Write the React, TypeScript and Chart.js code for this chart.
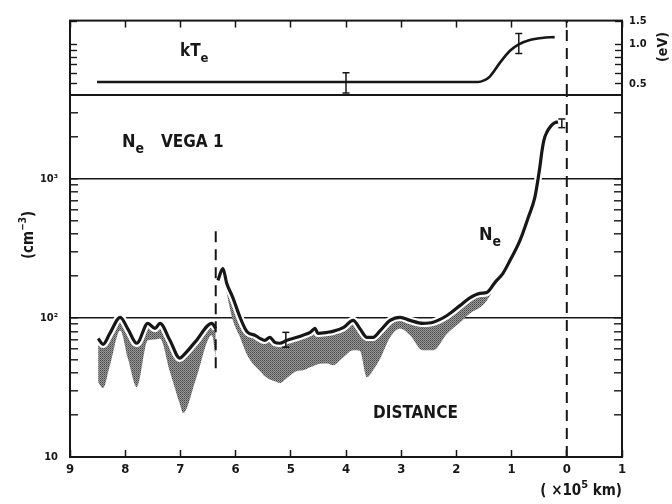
import React, { useEffect, useRef } from 'react';
import { Chart, registerables } from 'chart.js';

Chart.register(...registerables);

const FONT = "'DejaVu Sans Condensed', 'Liberation Sans Narrow', 'DejaVu Sans', sans-serif";
const INK = '#171717';

// ---- axes ----
const xTickValues = [9, 8, 7, 6, 5, 4, 3, 2, 1, 0, -1];
const neTickValues = [10, 20, 30, 40, 50, 60, 70, 80, 90, 100, 200, 300, 400, 500, 600, 700, 800, 900, 1000, 2000, 3000, 4000];
const neTickLabels: Record<string, string> = { '10': '10', '100': '10²', '1000': '10³' };
const neMajorLines = [100, 1000];
const kTickValues = [0.5, 0.6, 0.7, 0.8, 0.9, 1.0, 1.5];
const kTickLabels: Record<string, string> = { '0.5': '0.5', '1': '1.0', '1.5': '1.5' };
const xRange = [-1, 9];
const neRange = [10, 4000];
const kRange = [0.41, 1.52];

// ---- Ne (cm^-3) vs distance (x10^5 km) ----
const neDist = [8.49, 8.40, 8.28, 8.09, 7.95, 7.79, 7.59, 7.46, 7.37, 7.19, 7.01, 6.95, 6.72, 6.43, 6.36, 6.34,
  6.32, 6.23, 6.16, 6.05, 5.92, 5.83, 5.78, 5.65, 5.56, 5.47, 5.38, 5.29, 5.20, 5.07, 4.89, 4.78, 4.65, 4.56, 4.51,
  4.34, 4.24, 4.05, 3.87, 3.75, 3.62, 3.51, 3.38, 3.20, 3.02, 2.84, 2.61, 2.42, 2.17, 1.93, 1.75, 1.57, 1.45, 1.30,
  1.16, 1.03, 0.85, 0.70, 0.58, 0.52, 0.485, 0.449, 0.413, 0.359, 0.286, 0.214, 0.16];
const neVal = [71, 64.6, 77, 101, 83, 65.7, 91.4, 84, 91.4, 69, 51.3, 53.6, 68, 91.4, 84, null,
  186, 226, 177, 140, 101, 84, 78.7, 75, 71.3, 69, 72.5, 66.7, 65.7, 69, 72.5, 75, 78.7, 84, 77.4,
  78.7, 80, 85, 96, 84, 72.5, 72.5, 81, 96, 101, 96, 91.4, 93, 104, 123, 140, 150, 152, 180,
  208, 258, 359, 525, 731, 1000, 1240, 1590, 1905, 2170, 2400, 2530, 2565];
// lower edge of the shaded band
const neLow = [34.5, 31.3, 45, 81, 51, 31.8, 69, 70, 71, 41, 24, 20.7, 36, 75, 52, null,
  null, 200, 150, 96, 72.5, 58.5, 53, 45, 41.5, 38, 36, 35, 34, 37, 41.5, 42, 44.2, 45.7, 46.5,
  47, 45.7, 52, 58.5, 58, 37.4, 42, 51, 72.5, 84, 75, 58.5, 58.5, 77, 93, 108, 119, 133, 165,
  200, 230, null, null, null, null, null, null, null, null, null, null, null];

const neErrDist = [5.09, 0.09];
const neErrLo = [61.5, 2330];
const neErrHi = [78.7, 2690];

// ---- kTe (eV) ----
const kDist = [8.51, 7.0, 5.0, 3.0, 2.0, 1.61, 1.50, 1.39, 1.21, 1.03, 0.87, 0.67, 0.45, 0.22];
const kVal = [0.515, 0.515, 0.515, 0.515, 0.515, 0.515, 0.53, 0.57, 0.725, 0.894, 1.0, 1.08, 1.12, 1.137];
const kErrDist = [4.0, 0.87];
const kErrLo = [0.425, 0.85];
const kErrHi = [0.607, 1.21];

// ---- markers ----
const nucleusDist = 0;
const boundaryDist = 6.36;
const boundaryLo = 43.5;
const boundaryHi = 436;

type Part = [string, number, number];
function rich(ctx: CanvasRenderingContext2D, parts: Part[], x: number, y: number, align: string) {
  let total = 0;
  const widths = parts.map(([t, s]) => {
    ctx.font = `bold ${s}px ${FONT}`;
    const w = ctx.measureText(t).width;
    total += w;
    return w;
  });
  let cx = align === 'right' ? x - total : align === 'center' ? x - total / 2 : x;
  parts.forEach(([t, s, dy], i) => {
    ctx.font = `bold ${s}px ${FONT}`;
    ctx.fillText(t, cx, y + dy);
    cx += widths[i];
  });
}

const framePlugin = {
  id: 'frame',
  afterDatasetsDraw(chart: any) {
    const { ctx, chartArea: a } = chart;
    ctx.save();
    ctx.strokeStyle = INK;
    ctx.lineWidth = 2;
    ctx.strokeRect(a.left, a.top, a.right - a.left, a.bottom - a.top);
    ctx.restore();
  },
};

function errorBarSets(dist: number[], lo: number[], hi: number[], axis: string) {
  return dist.map((x, i) => ({
    data: [{ x, y: lo[i] }, { x, y: hi[i] }],
    yAxisID: axis,
    borderColor: INK,
    borderWidth: 1.5,
    pointStyle: 'line',
    pointRadius: 3.5,
    pointBorderWidth: 1.5,
    pointBorderColor: INK,
    pointBackgroundColor: INK,
    fill: false,
    order: 0,
  }));
}

function xScale(position: string, showLabels: boolean) {
  return {
    type: 'linear',
    position,
    reverse: true,
    min: xRange[0],
    max: xRange[1],
    afterBuildTicks: (s: any) => { s.ticks = xTickValues.map((v) => ({ value: v })); },
    afterFit: (s: any) => { s.height = showLabels ? 30 : 0; },
    border: { display: false },
    grid: { drawOnChartArea: false, tickLength: -7, tickColor: INK, tickWidth: 1.5 },
    ticks: {
      display: showLabels,
      autoSkip: false,
      maxRotation: 0,
      padding: 12,
      color: INK,
      font: { family: FONT, weight: 'bold', size: 13 },
      callback: (v: any) => String(Math.abs(Number(v))),
    },
  };
}

export default function App() {
  const topRef = useRef<HTMLCanvasElement>(null);
  const botRef = useRef<HTMLCanvasElement>(null);

  useEffect(() => {
    const pc = document.createElement('canvas');
    pc.width = 2;
    pc.height = 2;
    const p = pc.getContext('2d')!;
    p.fillStyle = '#979797';
    p.fillRect(0, 0, 2, 2);
    p.fillStyle = '#474747';
    p.fillRect(0, 0, 1, 1);
    p.fillStyle = '#6c6c6c';
    p.fillRect(1, 1, 1, 1);
    const pattern = botRef.current!.getContext('2d')!.createPattern(pc, 'repeat');

    const neLine = neDist.map((x, i) => ({ x, y: neVal[i] }));
    const lowLine = neDist.map((x, i) => ({ x, y: neLow[i] }));

    const bottomNotes = {
      id: 'notesB',
      afterDraw(chart: any) {
        const c = chart.ctx as CanvasRenderingContext2D;
        c.save();
        c.fillStyle = INK;
        c.textAlign = 'left';
        c.textBaseline = 'alphabetic';
        rich(c, [['N', 18, 0], ['e', 14, 6]], 122, 147, 'left');
        rich(c, [['VEGA 1', 17, 0]], 161, 147, 'left');
        rich(c, [['N', 18, 0], ['e', 14, 6]], 479, 240, 'left');
        rich(c, [['DISTANCE', 17, 0]], 373, 418, 'left');
        rich(c, [['( ×10', 15, 0], ['5', 11, -7], [' km)', 15, 0]], 622, 495, 'right');
        c.translate(33, 235);
        c.rotate(-Math.PI / 2);
        rich(c, [['(cm', 15, 0], ['−3', 10, -7], [')', 15, 0]], 0, 0, 'center');
        c.restore();
      },
    };

    const topNotes = {
      id: 'notesT',
      afterDraw(chart: any) {
        const c = chart.ctx as CanvasRenderingContext2D;
        c.save();
        c.fillStyle = INK;
        c.textAlign = 'left';
        c.textBaseline = 'alphabetic';
        rich(c, [['kT', 17, 0], ['e', 13, 6]], 180, 56, 'left');
        c.translate(667, 47);
        c.rotate(-Math.PI / 2);
        rich(c, [['(eV)', 14, 0]], 0, 0, 'center');
        c.restore();
      },
    };

    const neAxis = (position: string, labels: boolean) => ({
      type: 'logarithmic',
      position,
      min: neRange[0],
      max: neRange[1],
      afterBuildTicks: (s: any) => { s.ticks = neTickValues.map((v) => ({ value: v })); },
      afterFit: (s: any) => { s.width = labels ? 40 : 10; },
      border: { display: false },
      grid: {
        drawOnChartArea: labels,
        color: (ctx: any) => (ctx.tick && neMajorLines.includes(ctx.tick.value) ? INK : 'rgba(0,0,0,0)'),
        lineWidth: 1.6,
        tickLength: -8,
        tickColor: INK,
        tickWidth: 1.4,
      },
      ticks: {
        display: labels,
        autoSkip: false,
        padding: 20,
        color: INK,
        font: { family: FONT, weight: 'bold', size: 11 },
        callback: (v: any) => neTickLabels[String(v)] ?? '',
      },
    });

    const bottom = new Chart(botRef.current!, {
      type: 'line',
      data: {
        datasets: [
          { data: neLine, yAxisID: 'y', borderColor: INK, borderWidth: 3.2, borderJoinStyle: 'round', pointRadius: 0, cubicInterpolationMode: 'monotone', spanGaps: false, fill: false, order: 1 },
          { data: neLine, yAxisID: 'y', borderColor: '#ffffff', borderWidth: 7.5, borderJoinStyle: 'round', pointRadius: 0, cubicInterpolationMode: 'monotone', spanGaps: false, fill: false, order: 2 },
          { data: lowLine, yAxisID: 'y', borderColor: 'rgba(0,0,0,0)', borderWidth: 0, backgroundColor: pattern, pointRadius: 0, cubicInterpolationMode: 'monotone', spanGaps: false, fill: { target: 0 }, order: 3 },
          { data: [{ x: nucleusDist, y: neRange[0] }, { x: nucleusDist, y: neRange[1] }], yAxisID: 'y', borderColor: INK, borderWidth: 2, borderDash: [11, 7], pointRadius: 0, fill: false, order: 0 },
          { data: [{ x: boundaryDist, y: boundaryLo }, { x: boundaryDist, y: boundaryHi }], yAxisID: 'y', borderColor: INK, borderWidth: 2, borderDash: [11, 7], pointRadius: 0, fill: false, order: 0 },
          ...errorBarSets(neErrDist, neErrLo, neErrHi, 'y'),
        ] as any,
      },
      options: {
        responsive: false,
        animation: false,
        events: [],
        layout: { padding: { left: 30, right: 40, top: 95, bottom: 17 } },
        plugins: { legend: { display: false }, tooltip: { enabled: false } },
        scales: {
          x: xScale('bottom', true),
          y: neAxis('left', true),
          yR: neAxis('right', false),
        } as any,
      },
      plugins: [framePlugin, bottomNotes],
    });

    const kAxis = (position: string, labels: boolean) => ({
      type: 'logarithmic',
      position,
      min: kRange[0],
      max: kRange[1],
      afterBuildTicks: (s: any) => { s.ticks = kTickValues.map((v) => ({ value: v })); },
      afterFit: (s: any) => { s.width = labels ? 40 : 10; },
      border: { display: false },
      grid: { drawOnChartArea: false, tickLength: -7, tickColor: INK, tickWidth: 1.4 },
      ticks: {
        display: labels,
        autoSkip: false,
        padding: 14,
        color: INK,
        font: { family: FONT, weight: 'bold', size: 11 },
        callback: (v: any) => kTickLabels[String(v)] ?? '',
      },
    });

    const top = new Chart(topRef.current!, {
      type: 'line',
      data: {
        datasets: [
          { data: kDist.map((x, i) => ({ x, y: kVal[i] })), yAxisID: 'yL', borderColor: INK, borderWidth: 2.6, pointRadius: 0, cubicInterpolationMode: 'monotone', fill: false, order: 1 },
          { data: [{ x: nucleusDist, y: kRange[0] }, { x: nucleusDist, y: kRange[1] }], yAxisID: 'yL', borderColor: INK, borderWidth: 2, borderDash: [11, 7], pointRadius: 0, fill: false, order: 0 },
          ...errorBarSets(kErrDist, kErrLo, kErrHi, 'yL'),
        ] as any,
      },
      options: {
        responsive: false,
        animation: false,
        events: [],
        layout: { padding: { left: 60, right: 10, top: 14, bottom: 409 } },
        plugins: { legend: { display: false }, tooltip: { enabled: false } },
        scales: {
          x: xScale('top', false),
          yL: kAxis('left', false),
          yR: kAxis('right', true),
        } as any,
      },
      plugins: [framePlugin, topNotes],
    });

    return () => {
      bottom.destroy();
      top.destroy();
    };
  }, []);

  const cs: React.CSSProperties = { position: 'absolute', left: 0, top: 0, width: 672, height: 504 };
  return (
    <div style={{ position: 'fixed', left: 0, top: 0, width: 672, height: 504, background: '#ffffff' }}>
      <canvas ref={botRef} width={672} height={504} style={cs} />
      <canvas ref={topRef} width={672} height={504} style={cs} />
    </div>
  );
}
